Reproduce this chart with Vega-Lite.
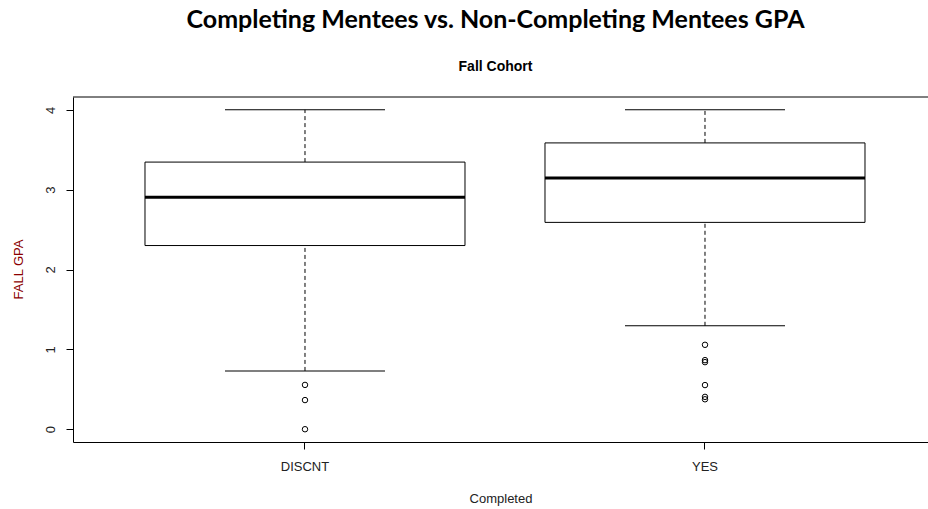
{
  "$schema": "https://vega.github.io/schema/vega-lite/v6.json",
  "width": 855,
  "height": 345,
  "autosize": {"type": "none"},
  "padding": {"left": 73, "top": 97, "right": 0, "bottom": 67},
  "background": "white",
  "config": {
    "view": {"stroke": null},
    "font": "Liberation Sans"
  },
  "title": {
    "text": "Completing Mentees vs. Non-Completing Mentees GPA",
    "subtitle": "Fall Cohort",
    "anchor": "middle",
    "frame": "group",
    "font": "Lato",
    "fontSize": 25,
    "fontWeight": "bold",
    "color": "#000000",
    "subtitleFont": "Liberation Sans",
    "subtitleFontSize": 14,
    "subtitleFontWeight": "bold",
    "subtitleColor": "#000000",
    "subtitlePadding": 27,
    "offset": 23,
    "dx": -5
  },
  "datasets": {
    "boxes": [
      {"Completed": "DISCNT", "lower": 0.73, "q1": 2.30, "median": 2.905, "q3": 3.345, "upper": 4.0},
      {"Completed": "YES", "lower": 1.295, "q1": 2.59, "median": 3.145, "q3": 3.585, "upper": 4.0}
    ],
    "outliers": [
      {"Completed": "DISCNT", "gpa": 0.555},
      {"Completed": "DISCNT", "gpa": 0.365},
      {"Completed": "DISCNT", "gpa": 0.0},
      {"Completed": "YES", "gpa": 1.057},
      {"Completed": "YES", "gpa": 0.865},
      {"Completed": "YES", "gpa": 0.84},
      {"Completed": "YES", "gpa": 0.553},
      {"Completed": "YES", "gpa": 0.405},
      {"Completed": "YES", "gpa": 0.375}
    ],
    "frame": [{"top": 4.16}]
  },
  "layer": [
    {
      "data": {"name": "boxes"},
      "mark": {"type": "rule", "strokeDash": [4, 3], "color": "#000000", "strokeWidth": 1},
      "encoding": {
        "x": {
          "field": "Completed", "type": "nominal",
          "scale": {"type": "band", "domain": ["DISCNT", "YES"], "paddingInner": 0, "paddingOuter": 0.06875, "align": 0.5818, "round": false},
          "axis": {
            "title": "Completed",
            "titleFont": "Liberation Sans",
            "titleFontSize": 13,
            "titleFontWeight": "normal",
            "titleColor": "#222222",
            "titleY": 56,
            "titleBaseline": "middle",
            "labelAngle": 0,
            "labelFont": "Liberation Sans",
            "labelFontSize": 13,
            "labelColor": "#222222",
            "labelPadding": 11,
            "labelBaseline": "top",
            "tickSize": 7,
            "tickColor": "#000000",
            "domainColor": "#000000",
            "grid": false
          }
        },
        "y": {
          "field": "q3", "type": "quantitative",
          "scale": {"domain": [-0.16, 4.16], "nice": false, "zero": false},
          "axis": {
            "title": "FALL GPA",
            "titleFont": "Liberation Sans",
            "titleFontSize": 13,
            "titleFontWeight": "normal",
            "titleColor": "#8B0000",
            "titleAngle": -90,
            "titleX": -55,
            "titleY": 172,
            "titleAlign": "center",
            "titleBaseline": "middle",
            "values": [0, 1, 2, 3, 4],
            "format": "d",
            "labelAngle": -90,
            "labelAlign": "center",
            "labelBaseline": "bottom",
            "labelFont": "Liberation Sans",
            "labelFontSize": 13,
            "labelColor": "#222222",
            "labelPadding": 9,
            "tickSize": 7,
            "tickColor": "#000000",
            "domainColor": "#000000",
            "grid": false
          }
        },
        "y2": {"field": "upper"}
      }
    },
    {
      "data": {"name": "boxes"},
      "mark": {"type": "rule", "strokeDash": [4, 3], "color": "#000000", "strokeWidth": 1},
      "encoding": {
        "x": {"field": "Completed", "type": "nominal"},
        "y": {"field": "lower", "type": "quantitative"},
        "y2": {"field": "q1"}
      }
    },
    {
      "data": {"name": "boxes"},
      "mark": {"type": "bar", "width": {"band": 0.8}, "fill": "white", "stroke": "#000000", "strokeWidth": 1},
      "encoding": {
        "x": {"field": "Completed", "type": "nominal"},
        "y": {"field": "q1", "type": "quantitative"},
        "y2": {"field": "q3"}
      }
    },
    {
      "data": {"name": "boxes"},
      "mark": {"type": "tick", "orient": "horizontal", "size": 320, "thickness": 3, "color": "#000000", "opacity": 1},
      "encoding": {
        "x": {"field": "Completed", "type": "nominal"},
        "y": {"field": "median", "type": "quantitative"}
      }
    },
    {
      "data": {"name": "boxes"},
      "mark": {"type": "tick", "orient": "horizontal", "size": 160, "thickness": 1, "color": "#000000", "opacity": 1},
      "encoding": {
        "x": {"field": "Completed", "type": "nominal"},
        "y": {"field": "upper", "type": "quantitative"}
      }
    },
    {
      "data": {"name": "boxes"},
      "mark": {"type": "tick", "orient": "horizontal", "size": 160, "thickness": 1, "color": "#000000", "opacity": 1},
      "encoding": {
        "x": {"field": "Completed", "type": "nominal"},
        "y": {"field": "lower", "type": "quantitative"}
      }
    },
    {
      "data": {"name": "outliers"},
      "mark": {"type": "point", "shape": "circle", "filled": false, "size": 30, "stroke": "#000000", "strokeWidth": 1, "opacity": 1},
      "encoding": {
        "x": {"field": "Completed", "type": "nominal"},
        "y": {"field": "gpa", "type": "quantitative"}
      }
    },
    {
      "data": {"name": "frame"},
      "mark": {"type": "rule", "color": "#000000", "strokeWidth": 1},
      "encoding": {
        "y": {"field": "top", "type": "quantitative"}
      }
    }
  ]
}
